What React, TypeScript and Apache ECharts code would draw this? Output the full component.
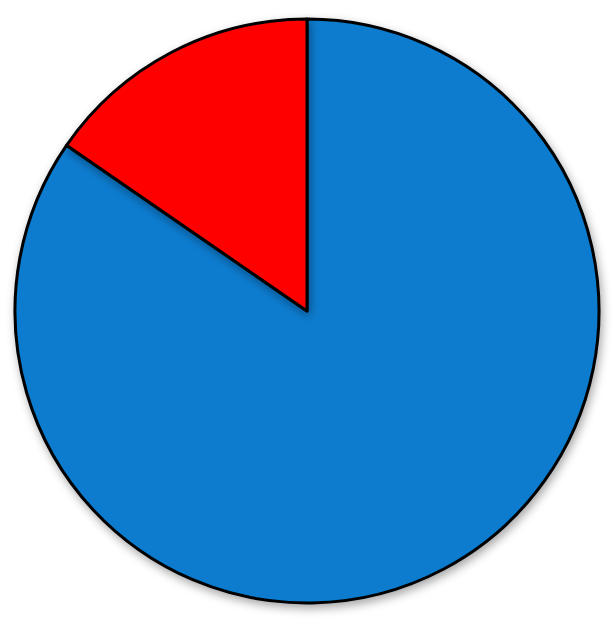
import React, { useEffect, useRef } from "react";
import * as echarts from "echarts";

const sliceNames = ["A", "B"];
const sliceValues = [84.6, 15.4];
const sliceColors = ["#077ccf", "#ff0000"];

const App: React.FC = () => {
  const chartRef = useRef<HTMLDivElement>(null);

  useEffect(() => {
    if (!chartRef.current) return;
    const chart = echarts.init(chartRef.current, undefined, { renderer: "svg" });

    const option: echarts.EChartsOption = {
      animation: false,
      backgroundColor: "#ffffff",
      series: [
        {
          type: "pie",
          center: [307, 311],
          radius: 292,
          startAngle: 90,
          clockwise: true,
          label: { show: false },
          labelLine: { show: false },
          emphasis: { disabled: true },
          itemStyle: {
            borderColor: "#000000",
            borderWidth: 3,
            shadowBlur: 10,
            shadowColor: "rgba(0,0,0,0.35)",
            shadowOffsetX: 2,
            shadowOffsetY: 4,
          },
          data: sliceNames.map((name, i) => ({
            name,
            value: sliceValues[i],
            itemStyle: { color: sliceColors[i] },
          })),
        },
      ],
    };

    chart.setOption(option);
    return () => {
      chart.dispose();
    };
  }, []);

  return (
    <div
      ref={chartRef}
      style={{ position: "fixed", left: 0, top: 0, width: 613, height: 624 }}
    />
  );
};

export default App;
